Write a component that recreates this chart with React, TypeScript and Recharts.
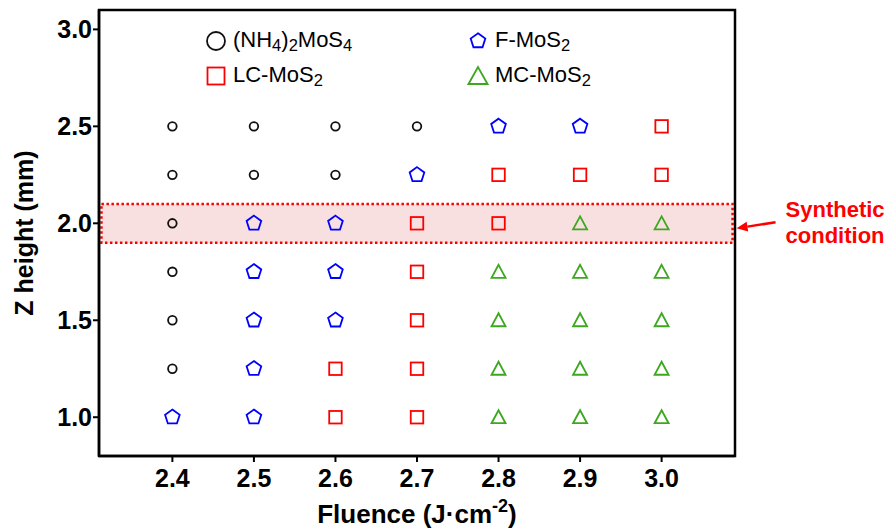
import { Legend, ReferenceArea, Scatter, ScatterChart, XAxis, YAxis } from "recharts";

const FONT = '"Liberation Sans", Arial, Helvetica, sans-serif';

// Phase map of the growth window: rows are Z heights, columns are fluences
const FLUENCE = [2.4, 2.5, 2.6, 2.7, 2.8, 2.9, 3.0];
const Z_HEIGHT = [2.5, 2.25, 2.0, 1.75, 1.5, 1.25, 1.0];
// P = (NH4)2MoS4, F = F-MoS2, L = LC-MoS2, M = MC-MoS2
const PHASE_ROWS = [
  "PPPPFFL",
  "PPPFLLL",
  "PFFLLMM",
  "PFFLMMM",
  "PFFLMMM",
  "PFLLMMM",
  "FFLLMMM",
];

const X_DOMAIN = [2.31, 3.09];
const Y_DOMAIN = [0.8, 3.1];
const X_TICKS = FLUENCE;
const Y_TICKS = [1.0, 1.5, 2.0, 2.5, 3.0];
const SYNTHETIC_BAND = { x1: 2.313, x2: 3.087, y1: 1.9, y2: 2.1 };

type Kind = "circle" | "pentagon" | "square" | "triangle";

// label parts alternate normal / subscript text
const SERIES: { code: string; parts: string[]; color: string; kind: Kind }[] = [
  { code: "P", parts: ["(NH", "4", ")", "2", "MoS", "4"], color: "#111111", kind: "circle" },
  { code: "F", parts: ["F-MoS", "2"], color: "#0000ff", kind: "pentagon" },
  { code: "L", parts: ["LC-MoS", "2"], color: "#ff0000", kind: "square" },
  { code: "M", parts: ["MC-MoS", "2"], color: "#3ca81e", kind: "triangle" },
];

function pointsFor(code: string) {
  const out: { x: number; y: number }[] = [];
  Z_HEIGHT.forEach((z, r) => {
    FLUENCE.forEach((f, c) => {
      if (PHASE_ROWS[r][c] === code) out.push({ x: f, y: z });
    });
  });
  return out;
}

function pentagon(cx: number, cy: number, r: number) {
  const pts: string[] = [];
  for (let k = 0; k < 5; k++) {
    const a = ((-90 + 72 * k) * Math.PI) / 180;
    pts.push(`${cx + r * Math.cos(a)},${cy + r * Math.sin(a)}`);
  }
  return pts.join(" ");
}

function Marker({ kind, cx, cy, color, big }: { kind: Kind; cx: number; cy: number; color: string; big?: boolean }) {
  const common = { fill: "none", stroke: color, strokeWidth: 1.8 };
  if (kind === "circle") return <circle cx={cx} cy={cy} r={big ? 9 : 4.3} {...common} />;
  if (kind === "pentagon") return <polygon points={pentagon(cx, cy, 7.7)} {...common} strokeLinejoin="miter" />;
  if (kind === "square") {
    const s = big ? 17 : 12.5;
    return <rect x={cx - s / 2} y={cy - s / 2} width={s} height={s} {...common} />;
  }
  const w = big ? 9.5 : 7;
  const h = big ? 8.5 : 6.5;
  return <polygon points={`${cx},${cy - h - 0.5} ${cx - w},${cy + h - 0.5} ${cx + w},${cy + h - 0.5}`} {...common} />;
}

function PhaseLegend() {
  return (
    <div
      style={{
        display: "grid",
        gridTemplateColumns: "262px 180px",
        fontFamily: FONT,
        fontSize: 22,
        color: "#000",
      }}
    >
      {SERIES.map((s) => (
        <div key={s.code} style={{ display: "flex", alignItems: "center", height: 35.5 }}>
          <svg width={22} height={22} style={{ marginRight: 6 }}>
            <Marker kind={s.kind} cx={11} cy={11} color={s.color} big />
          </svg>
          <span>
            {s.parts.map((p, i) =>
              i % 2 === 0 ? (
                <span key={i}>{p}</span>
              ) : (
                <span key={i} style={{ fontSize: "0.75em", verticalAlign: "-0.22em" }}>
                  {p}
                </span>
              ),
            )}
          </span>
        </div>
      ))}
    </div>
  );
}

function SyntheticNote(props: any) {
  const vb = props.viewBox;
  if (!vb) return null;
  const right = vb.x + vb.width;
  const cy = vb.y + vb.height / 2;
  const tip = { x: right + 4, y: cy + 5 };
  const tail = { x: right + 43, y: cy - 1 };
  const dx = tip.x - tail.x;
  const dy = tip.y - tail.y;
  const len = Math.hypot(dx, dy);
  const ux = dx / len;
  const uy = dy / len;
  const bx = tip.x - ux * 11;
  const by = tip.y - uy * 11;
  const head = `${tip.x},${tip.y} ${bx - uy * 5},${by + ux * 5} ${bx + uy * 5},${by - ux * 5}`;
  return (
    <g>
      <line x1={tail.x} y1={tail.y} x2={bx} y2={by} stroke="#ff0000" strokeWidth={2.5} />
      <polygon points={head} fill="#ff0000" />
      <text x={right + 53} y={cy - 6.5} fill="#ff0000" fontFamily={FONT} fontSize={22} fontWeight={700}>
        Synthetic
      </text>
      <text x={right + 53} y={cy + 20} fill="#ff0000" fontFamily={FONT} fontSize={22} fontWeight={700}>
        condition
      </text>
    </g>
  );
}

function FluenceTitle(props: any) {
  const vb = props.viewBox;
  if (!vb) return null;
  return (
    <text x={vb.x + vb.width / 2} y={vb.y + 67} textAnchor="middle" fontFamily={FONT} fontSize={26} fontWeight={700} fill="#000">
      Fluence (J·cm
      <tspan dy={-11} fontSize={18}>
        -2
      </tspan>
      <tspan dy={11}>)</tspan>
    </text>
  );
}

function HeightTitle(props: any) {
  const vb = props.viewBox;
  if (!vb) return null;
  const x = vb.x + 33;
  const y = vb.y + vb.height / 2;
  return (
    <text
      x={x}
      y={y}
      transform={`rotate(-90, ${x}, ${y})`}
      textAnchor="middle"
      fontFamily={FONT}
      fontSize={25}
      fontWeight={700}
      fill="#000"
    >
      Z height (mm)
    </text>
  );
}

const tickStyle = { fontSize: 25, fontWeight: 700, fill: "#000", fontFamily: FONT };

export default function App() {
  return (
    <div style={{ width: 894, height: 531, background: "#fff" }}>
      <style>{"body{margin:0}"}</style>
      <ScatterChart width={894} height={531} margin={{ top: 10, right: 159, bottom: 0, left: 0 }}>
        <ReferenceArea
          x1={SYNTHETIC_BAND.x1}
          x2={SYNTHETIC_BAND.x2}
          y1={SYNTHETIC_BAND.y1}
          y2={SYNTHETIC_BAND.y2}
          fill="#f9e0e0"
          fillOpacity={1}
          stroke="#ff0000"
          strokeWidth={2.5}
          strokeDasharray="2.5 2.5"
          label={<SyntheticNote />}
        />
        {/* frame around the plot */}
        <ReferenceArea
          x1={X_DOMAIN[0]}
          x2={X_DOMAIN[1]}
          y1={Y_DOMAIN[0]}
          y2={Y_DOMAIN[1]}
          fill="none"
          fillOpacity={0}
          stroke="#000"
          strokeWidth={2.5}
          ifOverflow="visible"
        />
        <XAxis
          type="number"
          dataKey="x"
          domain={X_DOMAIN}
          ticks={X_TICKS}
          allowDataOverflow
          tickFormatter={(v: number) => v.toFixed(1)}
          height={75}
          tickSize={6}
          tickMargin={7}
          tick={tickStyle}
          axisLine={{ stroke: "#000", strokeWidth: 2.5 }}
          tickLine={{ stroke: "#000", strokeWidth: 2 }}
          label={<FluenceTitle />}
        />
        <YAxis
          type="number"
          dataKey="y"
          domain={Y_DOMAIN}
          ticks={Y_TICKS}
          allowDataOverflow
          tickFormatter={(v: number) => v.toFixed(1)}
          width={99}
          tickSize={6}
          tickMargin={1}
          tick={tickStyle}
          axisLine={{ stroke: "#000", strokeWidth: 2.5 }}
          tickLine={{ stroke: "#000", strokeWidth: 2 }}
          label={<HeightTitle />}
        />
        <Legend
          verticalAlign="middle"
          wrapperStyle={{ top: 23, left: 205, width: 450 }}
          content={() => <PhaseLegend />}
        />
        {SERIES.map((s) => (
          <Scatter
            key={s.code}
            name={s.parts.join("")}
            data={pointsFor(s.code)}
            isAnimationActive={false}
            shape={(p: any) => <Marker kind={s.kind} cx={p.cx} cy={p.cy} color={s.color} />}
          />
        ))}
      </ScatterChart>
    </div>
  );
}
